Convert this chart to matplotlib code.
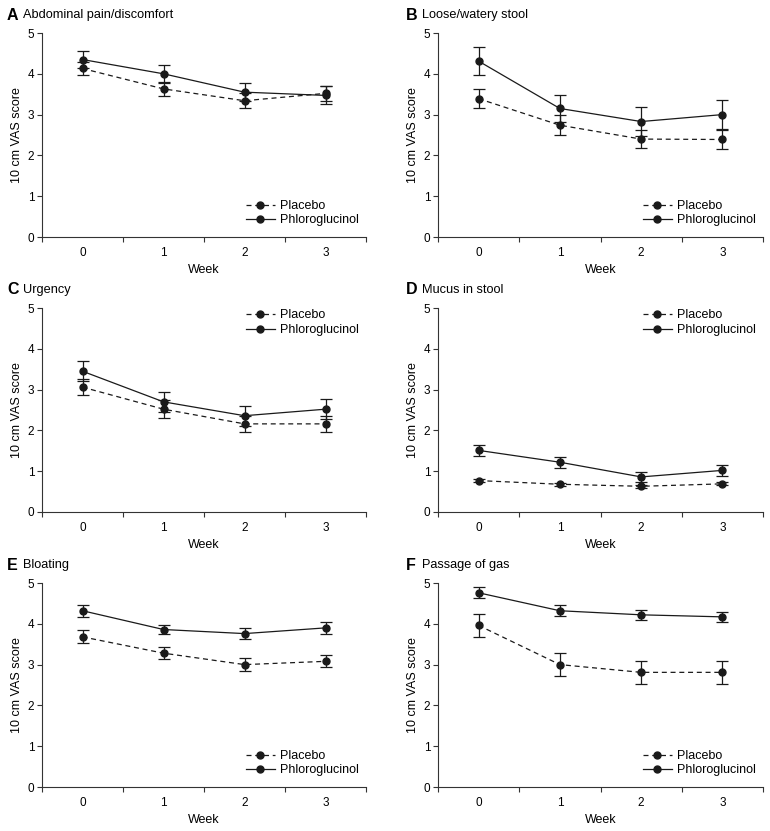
import numpy as np
import matplotlib
matplotlib.use("Agg")
import matplotlib.pyplot as plt
from matplotlib.lines import Line2D

# -----------------------------
# Data
# -----------------------------
weeks = [0, 1, 2, 3]

panel_letters = ["A", "B", "C", "D", "E", "F"]
panel_titles = [
    "Abdominal pain/discomfort",
    "Loose/watery stool",
    "Urgency",
    "Mucus in stool",
    "Bloating",
    "Passage of gas",
]

placebo_mean = [
    [4.13, 3.63, 3.34, 3.52],
    [3.39, 2.74, 2.40, 2.39],
    [3.06, 2.52, 2.16, 2.16],
    [0.77, 0.68, 0.63, 0.69],
    [3.68, 3.28, 3.00, 3.08],
    [3.96, 3.00, 2.81, 2.81],
]
placebo_err = [
    [0.16, 0.18, 0.18, 0.18],
    [0.24, 0.25, 0.23, 0.23],
    [0.20, 0.22, 0.20, 0.20],
    [0.04, 0.04, 0.04, 0.04],
    [0.16, 0.15, 0.15, 0.15],
    [0.28, 0.28, 0.28, 0.28],
]
phloro_mean = [
    [4.35, 4.00, 3.55, 3.47],
    [4.31, 3.15, 2.83, 3.00],
    [3.45, 2.70, 2.36, 2.52],
    [1.51, 1.22, 0.86, 1.02],
    [4.32, 3.86, 3.76, 3.90],
    [4.76, 4.32, 4.22, 4.17],
]
phloro_err = [
    [0.22, 0.22, 0.22, 0.22],
    [0.34, 0.33, 0.35, 0.35],
    [0.24, 0.25, 0.25, 0.25],
    [0.14, 0.13, 0.13, 0.14],
    [0.15, 0.12, 0.13, 0.14],
    [0.13, 0.13, 0.13, 0.13],
]
legend_loc = ["lower right", "lower right", "upper right",
              "upper right", "lower right", "lower right"]

# -----------------------------
# Layout (pixels)
# -----------------------------
W, H = 770, 831
COL_X = [42, 438]
COL_W = [324, 325]
ROW_TOP = [33, 308, 583]
AX_H = 204
LINE = "#1a1a1a"
DASH = (0, (4, 3))

plt.rcParams["font.family"] = ["Liberation Sans", "DejaVu Sans"]

fig = plt.figure(figsize=(W / 100, H / 100), dpi=100)

handles = [
    Line2D([], [], color=LINE, linestyle=DASH, linewidth=0.9,
           marker="o", markersize=5, label="Placebo"),
    Line2D([], [], color=LINE, linestyle="-", linewidth=0.9,
           marker="o", markersize=5, label="Phloroglucinol"),
]

for i in range(6):
    r, c = divmod(i, 2)
    x0, w = COL_X[c], COL_W[c]
    top = ROW_TOP[r]
    ax = fig.add_axes([x0 / W, 1 - (top + AX_H) / H, w / W, AX_H / H])

    ax.errorbar(weeks, placebo_mean[i], yerr=placebo_err[i],
                color=LINE, linestyle=DASH, linewidth=0.9,
                marker="o", markersize=5, capsize=4, elinewidth=0.9,
                capthick=0.9)
    ax.errorbar(weeks, phloro_mean[i], yerr=phloro_err[i],
                color=LINE, linestyle="-", linewidth=0.9,
                marker="o", markersize=5, capsize=4, elinewidth=0.9,
                capthick=0.9)

    ax.set_xlim(-0.5, 3.5)
    ax.set_ylim(0, 5)
    ax.spines["top"].set_visible(False)
    ax.spines["right"].set_visible(False)
    for s in ["left", "bottom"]:
        ax.spines[s].set_linewidth(0.8)
        ax.spines[s].set_color("#333333")

    ax.set_xticks(weeks)
    ax.set_xticks(np.arange(-0.5, 3.6, 1.0), minor=True)
    ax.tick_params(axis="x", which="major", length=0, pad=7, labelsize=8.5)
    ax.tick_params(axis="x", which="minor", length=3.5, width=0.8,
                   direction="out", color="#333333")
    ax.set_yticks(range(6))
    ax.tick_params(axis="y", length=3.5, width=0.8, pad=2, labelsize=8.5,
                   color="#333333")

    ax.set_xlabel("Week", fontsize=9, labelpad=4)
    ax.set_ylabel("10 cm VAS score", fontsize=9, labelpad=3.5)

    if legend_loc[i] == "lower right":
        anchor = (1.0, 0.015)
    else:
        anchor = (1.0, 1.03)
    ax.legend(handles=handles, loc=legend_loc[i], bbox_to_anchor=anchor,
              frameon=False, fontsize=9, handlelength=2.3,
              handletextpad=0.4, labelspacing=0.2, borderaxespad=0.2)

    # panel letter + title
    lx = 7 if c == 0 else 406
    ty = 1 - (top - 18) / H
    fig.text(lx / W, ty, panel_letters[i], fontsize=11.5, fontweight="bold",
             va="center", ha="left")
    fig.text((lx + 16) / W, ty, panel_titles[i], fontsize=9.2,
             va="center", ha="left")

fig.savefig("out.png", dpi=100)
